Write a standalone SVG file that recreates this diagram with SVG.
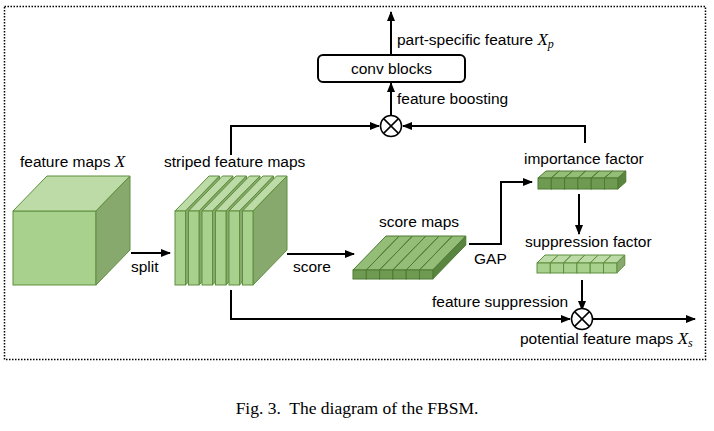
<svg xmlns="http://www.w3.org/2000/svg" width="714" height="431" viewBox="0 0 714 431">
<defs>
<style>
.t{font-family:"Liberation Sans",Arial,sans-serif;font-size:15.5px;fill:#000}
.m{font-family:"Liberation Serif","Times New Roman",serif;font-style:italic}
.ln{fill:none;stroke:#000;stroke-width:2}
.fr{fill:#a9d18e;stroke:#5f8f3e;stroke-width:1}
.tp{fill:#bddba6;stroke:#5f8f3e;stroke-width:1}
.sd{fill:#87a96d;stroke:#5f8f3e;stroke-width:1}
.dfr{fill:#6f9a52;stroke:#4e7a32;stroke-width:1}
.dtp{fill:#94bd78;stroke:#4e7a32;stroke-width:1}
.dsd{fill:#5a8540;stroke:#4e7a32;stroke-width:1}
.ot{fill:#fff;stroke:#000;stroke-width:1.5}
</style>
<marker id="ah" viewBox="0 0 10 10" refX="9" refY="5" markerWidth="5" markerHeight="5" orient="auto" markerUnits="strokeWidth">
<path d="M0,1 L10,5 L0,9 z" fill="#000"/>
</marker>
</defs>
<rect x="0" y="0" width="714" height="431" fill="#fff"/>
<rect x="4.5" y="6.5" width="701" height="353" fill="none" stroke="#000" stroke-width="1.5" stroke-dasharray="1.5,1.5"/>

<g id="connectors">
<line class="ln" x1="131" y1="253" x2="170" y2="253" marker-end="url(#ah)"/>
<line class="ln" x1="287" y1="254" x2="354" y2="254" marker-end="url(#ah)"/>
<polyline class="ln" points="469,244 501,244 501,182 532,182" marker-end="url(#ah)"/>
<line class="ln" x1="579" y1="194" x2="579" y2="234" marker-end="url(#ah)"/>
<line class="ln" x1="582" y1="280" x2="582" y2="310" marker-end="url(#ah)"/>
<polyline class="ln" points="231,290 231,319 570,319" marker-end="url(#ah)"/>
<line class="ln" x1="593" y1="319" x2="695" y2="319" marker-end="url(#ah)"/>
<polyline class="ln" points="231,155 231,126 379,126" marker-end="url(#ah)"/>
<polyline class="ln" points="585,143 585,126 403,126" marker-end="url(#ah)"/>
<line class="ln" x1="391" y1="115" x2="391" y2="83" marker-end="url(#ah)"/>
<line class="ln" x1="391" y1="55" x2="391" y2="12" marker-end="url(#ah)"/>
</g>

<g id="feature-maps">
<rect class="fr" x="13" y="211" width="83" height="74"/>
<polygon class="tp" points="13,211 47,176 130,176 96,211"/>
<polygon class="sd" points="96,211 130,176 130,250 96,285"/>
<text class="t" x="20" y="167">feature maps <tspan class="m" font-size="17">X</tspan></text>
</g>

<g id="striped-feature-maps">
<polygon class="tp" points="175,211 209,176 219.5,176 185.5,211"/><polygon class="sd" points="185.5,211 219.5,176 219.5,250 185.5,285"/><rect class="fr" x="175" y="211" width="10.5" height="74"/>
<polygon class="tp" points="188.5,211 222.5,176 233,176 199,211"/><polygon class="sd" points="199,211 233,176 233,250 199,285"/><rect class="fr" x="188.5" y="211" width="10.5" height="74"/>
<polygon class="tp" points="202,211 236,176 246.5,176 212.5,211"/><polygon class="sd" points="212.5,211 246.5,176 246.5,250 212.5,285"/><rect class="fr" x="202" y="211" width="10.5" height="74"/>
<polygon class="tp" points="215.5,211 249.5,176 260,176 226,211"/><polygon class="sd" points="226,211 260,176 260,250 226,285"/><rect class="fr" x="215.5" y="211" width="10.5" height="74"/>
<polygon class="tp" points="229,211 263,176 273.5,176 239.5,211"/><polygon class="sd" points="239.5,211 273.5,176 273.5,250 239.5,285"/><rect class="fr" x="229" y="211" width="10.5" height="74"/>
<polygon class="tp" points="242.5,211 276.5,176 287,176 253,211"/><polygon class="sd" points="253,211 287,176 287,250 253,285"/><rect class="fr" x="242.5" y="211" width="10.5" height="74"/>
<text class="t" x="164" y="167">striped feature maps</text>
</g>

<g id="score-maps">
<polygon class="dtp" points="353,270 386,236 399.3,236 366.3,270"/><polygon class="dsd" points="366.3,270 399.3,236 399.3,245 366.3,279"/><rect class="dfr" x="353" y="270" width="13.3" height="9"/>
<polygon class="dtp" points="366.3,270 399.3,236 412.6,236 379.6,270"/><polygon class="dsd" points="379.6,270 412.6,236 412.6,245 379.6,279"/><rect class="dfr" x="366.3" y="270" width="13.3" height="9"/>
<polygon class="dtp" points="379.6,270 412.6,236 425.9,236 392.9,270"/><polygon class="dsd" points="392.9,270 425.9,236 425.9,245 392.9,279"/><rect class="dfr" x="379.6" y="270" width="13.3" height="9"/>
<polygon class="dtp" points="392.9,270 425.9,236 439.2,236 406.2,270"/><polygon class="dsd" points="406.2,270 439.2,236 439.2,245 406.2,279"/><rect class="dfr" x="392.9" y="270" width="13.3" height="9"/>
<polygon class="dtp" points="406.2,270 439.2,236 452.5,236 419.5,270"/><polygon class="dsd" points="419.5,270 452.5,236 452.5,245 419.5,279"/><rect class="dfr" x="406.2" y="270" width="13.3" height="9"/>
<polygon class="dtp" points="419.5,270 452.5,236 465.8,236 432.8,270"/><polygon class="dsd" points="432.8,270 465.8,236 465.8,245 432.8,279"/><rect class="dfr" x="419.5" y="270" width="13.3" height="9"/>
<text class="t" x="379" y="227">score maps</text>
</g>

<g id="importance-factor">
<polygon class="dtp" points="538,178 546,171 559.3,171 551.3,178"/><polygon class="dsd" points="551.3,178 559.3,171 559.3,182 551.3,189"/><rect class="dfr" x="538" y="178" width="13.3" height="11"/>
<polygon class="dtp" points="551.3,178 559.3,171 572.6,171 564.6,178"/><polygon class="dsd" points="564.6,178 572.6,171 572.6,182 564.6,189"/><rect class="dfr" x="551.3" y="178" width="13.3" height="11"/>
<polygon class="dtp" points="564.6,178 572.6,171 585.9,171 577.9,178"/><polygon class="dsd" points="577.9,178 585.9,171 585.9,182 577.9,189"/><rect class="dfr" x="564.6" y="178" width="13.3" height="11"/>
<polygon class="dtp" points="577.9,178 585.9,171 599.2,171 591.2,178"/><polygon class="dsd" points="591.2,178 599.2,171 599.2,182 591.2,189"/><rect class="dfr" x="577.9" y="178" width="13.3" height="11"/>
<polygon class="dtp" points="591.2,178 599.2,171 612.5,171 604.5,178"/><polygon class="dsd" points="604.5,178 612.5,171 612.5,182 604.5,189"/><rect class="dfr" x="591.2" y="178" width="13.3" height="11"/>
<polygon class="dtp" points="604.5,178 612.5,171 625.8,171 617.8,178"/><polygon class="dsd" points="617.8,178 625.8,171 625.8,182 617.8,189"/><rect class="dfr" x="604.5" y="178" width="13.3" height="11"/>
<text class="t" x="524" y="164">importance factor</text>
</g>

<g id="suppression-factor">
<polygon class="tp" points="537,263 545,255 558.3,255 550.3,263"/><polygon class="sd" points="550.3,263 558.3,255 558.3,265 550.3,273"/><rect class="fr" x="537" y="263" width="13.3" height="10"/>
<polygon class="tp" points="550.3,263 558.3,255 571.6,255 563.6,263"/><polygon class="sd" points="563.6,263 571.6,255 571.6,265 563.6,273"/><rect class="fr" x="550.3" y="263" width="13.3" height="10"/>
<polygon class="tp" points="563.6,263 571.6,255 584.9,255 576.9,263"/><polygon class="sd" points="576.9,263 584.9,255 584.9,265 576.9,273"/><rect class="fr" x="563.6" y="263" width="13.3" height="10"/>
<polygon class="tp" points="576.9,263 584.9,255 598.2,255 590.2,263"/><polygon class="sd" points="590.2,263 598.2,255 598.2,265 590.2,273"/><rect class="fr" x="576.9" y="263" width="13.3" height="10"/>
<polygon class="tp" points="590.2,263 598.2,255 611.5,255 603.5,263"/><polygon class="sd" points="603.5,263 611.5,255 611.5,265 603.5,273"/><rect class="fr" x="590.2" y="263" width="13.3" height="10"/>
<polygon class="tp" points="603.5,263 611.5,255 624.8,255 616.8,263"/><polygon class="sd" points="616.8,263 624.8,255 624.8,265 616.8,273"/><rect class="fr" x="603.5" y="263" width="13.3" height="10"/>
<text class="t" x="525" y="247">suppression factor</text>
</g>

<g id="otimes-suppress">
<circle class="ot" cx="582" cy="319" r="10.5"/>
<path d="M574.6,311.6 L589.4,326.4 M589.4,311.6 L574.6,326.4" stroke="#000" stroke-width="1.5"/>
</g>

<g id="otimes-boost">
<circle class="ot" cx="391" cy="126" r="10.5"/>
<path d="M383.6,118.6 L398.4,133.4 M398.4,118.6 L383.6,133.4" stroke="#000" stroke-width="1.5"/>
</g>

<g id="conv-blocks">
<rect x="318" y="55" width="147" height="27" rx="5" fill="#fff" stroke="#000" stroke-width="2"/>
<text class="t" x="391.5" y="74" text-anchor="middle">conv blocks</text>
</g>

<g id="labels">
<text class="t" x="131" y="272">split</text>
<text class="t" x="293" y="272">score</text>
<text class="t" x="474" y="264">GAP</text>
<text class="t" x="397" y="104">feature boosting</text>
<text class="t" x="397" y="45">part-specific feature <tspan class="m" font-size="17">X</tspan><tspan class="m" font-size="12" dy="3">p</tspan></text>
<text class="t" x="432" y="307">feature suppression</text>
<text class="t" x="520" y="344">potential feature maps <tspan class="m" font-size="17">X</tspan><tspan class="m" font-size="12" dy="3">s</tspan></text>
</g>

<text x="357" y="414" text-anchor="middle" font-family="'Liberation Serif','Times New Roman',serif" font-size="17.5" xml:space="preserve">Fig. 3.  The diagram of the FBSM.</text>
</svg>
